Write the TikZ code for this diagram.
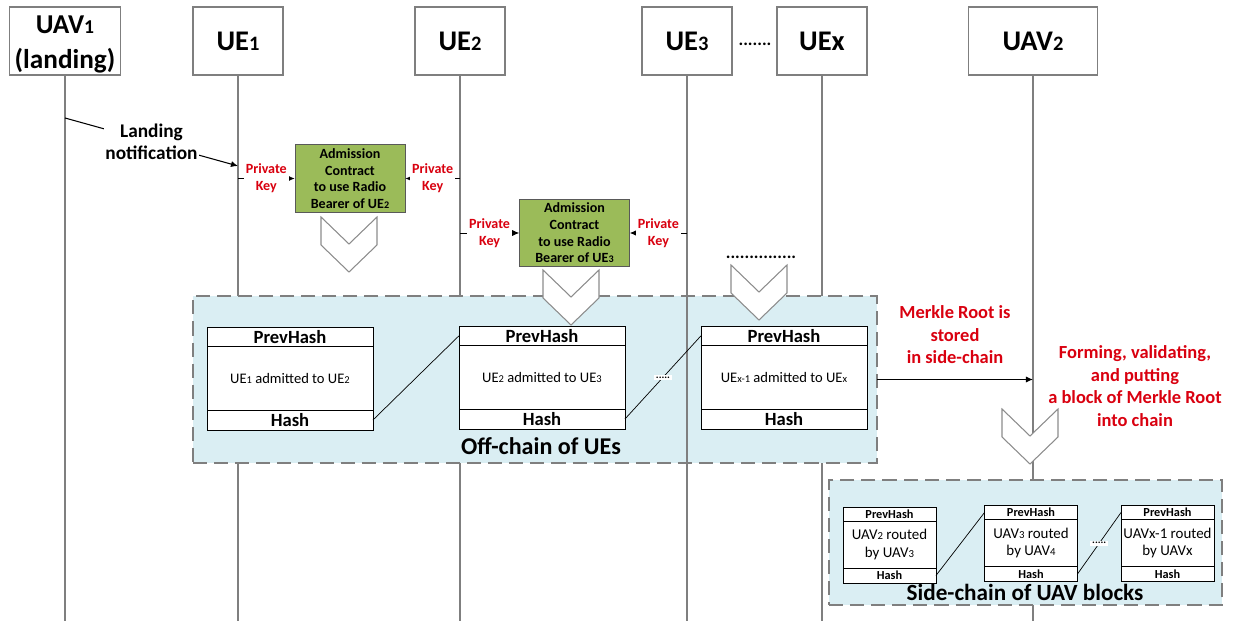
\documentclass[tikz,border=0pt]{standalone}
\usepackage{fontspec}
\setmainfont{Carlito}
\usetikzlibrary{arrows.meta,positioning}
\definecolor{cnGreen}{HTML}{9BBB59}
\definecolor{cnBlue}{HTML}{DAEEF3}
\definecolor{cnRed}{HTML}{D9000F}
\definecolor{cnGray}{HTML}{7F7F7F}
\newcommand{\sm}[1]{\scalebox{0.72}{#1}}

\begin{document}
\begin{tikzpicture}[x=0.02cm,y=-0.02cm,>={Latex[length=4pt,width=3.5pt]},
  hd/.style={draw=cnGray,thick,minimum width=1.8cm,minimum height=1.36cm,align=center,font=\fontsize{16.2}{18}\selectfont\bfseries},
  life/.style={draw=cnGray,line width=0.6pt},
  ct/.style={draw=black!65,fill=cnGreen,minimum width=2.2cm,minimum height=1.35cm,align=center,inner sep=1pt,font=\fontsize{8}{9.5}\selectfont\bfseries},
  pkl/.style={fill=white,inner sep=1pt,align=center,text=cnRed,font=\fontsize{8}{9.5}\selectfont\bfseries},
  rd/.style={align=center,text=cnRed,font=\fontsize{10.5}{12.8}\selectfont\bfseries},
  chain/.style={draw=cnGray,line width=1.4pt,dash pattern=on 8pt off 4pt,fill=cnBlue,inner sep=0pt,outer sep=0pt},
  blk/.style={draw,fill=white,inner sep=0pt,outer sep=0pt,align=center},
  ob/.style={blk,minimum width=3.32cm,minimum height=1.28cm,font=\fontsize{8.3}{10}\selectfont},
  obh/.style={blk,minimum width=3.32cm,minimum height=0.37cm,font=\fontsize{10.6}{11}\selectfont\bfseries},
  obf/.style={obh,minimum height=0.4cm},
  sb/.style={blk,minimum width=1.86cm,minimum height=0.94cm,font=\fontsize{8.5}{10}\selectfont},
  sbh/.style={blk,minimum width=1.86cm,minimum height=0.28cm,font=\fontsize{7}{8}\selectfont\bfseries},
  sbf/.style={sbh,minimum height=0.3cm},
  dt/.style={fill=white,inner sep=1pt,font=\fontsize{6}{6}\selectfont\bfseries},
  chevline/.style={draw=black!45,fill=white,line width=0.6pt},
  chev/.pic={\path[chevline] (-28,0) -- (0,27) -- (28,0) -- (28,28) -- (0,55) -- (-28,28) -- cycle;}]
  \useasboundingbox (0,0) rectangle (1235,621);
  % lifeline heads
  \node[hd,minimum width=2.22cm] (uavA) at (65,41) {};
  \node[align=center,inner sep=0pt,font=\fontsize{15.5}{19.8}\selectfont\bfseries] (uavAt) at (65,44.5) {UAV\sm{1}\\(landing)};
  \node[hd] (ueA) at (238,41) {UE\sm{1}};
  \node[hd] (ueB) at (460,41) {UE\sm{2}};
  \node[hd] (ueC) at (687,41) {UE\sm{3}};
  \node[hd] (ueX) at (822,41) {UEx};
  \node[hd,minimum width=2.58cm] (uavB) at (1033,41) {UAV\sm{2}};
  \node[font=\fontsize{10}{10}\selectfont\bfseries] (dotsA) at (755,44) {.......};
  \coordinate (bot) at (0,621);
  \foreach \n in {uavA,ueA,ueB,ueC,ueX,uavB}
    \draw[life] (\n.south) -- (\n.south |- bot);
  % landing notification
  \coordinate (lnA) at (uavA.south |- 0,118);
  \coordinate (lnB) at (ueA.south |- 0,166);
  \draw[->,semithick] (lnA) -- node[pos=0.5,fill=white,inner sep=1pt,align=center,font=\fontsize{11}{12.6}\selectfont\bfseries]{Landing\\notification} (lnB);
  % admission contracts
  \node[ct] (cA) at (350,178.5) {Admission\\Contract\\to use Radio\\Bearer of UE\sm{2}};
  \node[ct] (cB) at (574.5,233) {Admission\\Contract\\to use Radio\\Bearer of UE\sm{3}};
  \draw[->] (ueA.south |- cA.west) -- node[pkl]{Private\\Key} (cA.west);
  \draw[->] (ueB.south |- cA.east) -- node[pkl]{Private\\Key} (cA.east);
  \draw[->] (ueB.south |- cB.west) -- node[pkl]{Private\\Key} (cB.west);
  \draw[->] (ueC.south |- cB.east) -- node[pkl]{Private\\Key} (cB.east);
  % off-chain
  \node[chain,minimum width=13.68cm,minimum height=3.34cm] (off) at (535,379.5) {};
  \draw[life] (off.north -| ueC) -- (off.south -| ueC);
  \node[font=\fontsize{13.7}{16}\selectfont\bfseries] (offl) at (541,446) {Off-chain of UEs};
  \node[ob] (bA) at (290,378) {UE\sm{1} admitted to UE\sm{2}};
  \node[obh,above=0pt of bA] (pA) {PrevHash};
  \node[obf,below=0pt of bA] (hA) {Hash};
  \node[ob] (bB) at (542,377) {UE\sm{2} admitted to UE\sm{3}};
  \node[obh,above=0pt of bB] (pB) {PrevHash};
  \node[obf,below=0pt of bB] (hB) {Hash};
  \node[ob] (bC) at (784,377) {UE\sm{x-1} admitted to UE\sm{x}};
  \node[obh,above=0pt of bC] (pC) {PrevHash};
  \node[obf,below=0pt of bC] (hC) {Hash};
  \draw[thin] (hA.east) -- (pB.west);
  \draw[thin] (hB.east) -- node[dt]{.....} (pC.west);
  % side-chain
  \node[chain,minimum width=7.86cm,minimum height=2.5cm] (side) at (1025.5,542.5) {};
  \node[font=\fontsize{13.2}{15}\selectfont\bfseries] (sidel) at (1025,592) {Side-chain of UAV blocks};
  \node[sb] (sA) at (889.5,544.5) {UAV\sm{2} routed\\by UAV\sm{3}};
  \node[sbh,above=0pt of sA] (spA) {PrevHash};
  \node[sbf,below=0pt of sA] (shA) {Hash};
  \node[sb] (sB) at (1031,543) {UAV\sm{3} routed\\by UAV\sm{4}};
  \node[sbh,above=0pt of sB] (spB) {PrevHash};
  \node[sbf,below=0pt of sB] (shB) {Hash};
  \node[sb] (sC) at (1167.5,543) {UAVx-1 routed\\by UAVx};
  \node[sbh,above=0pt of sC] (spC) {PrevHash};
  \node[sbf,below=0pt of sC] (shC) {Hash};
  \draw[thin] (shA.east) -- (spB.west);
  \draw[thin] (shB.east) -- node[dt]{.....} (spC.west);
  % merkle root
  \draw[->,semithick] (off.east) -- (off.east -| uavB);
  \node[rd] (mkl) at (955,335) {Merkle Root is\\stored\\in side-chain};
  \node[rd] (fml) at (1135,386) {Forming, validating,\\and putting\\a block of Merkle Root\\into chain};
  % chevrons
  \node[font=\fontsize{10}{10}\selectfont\bfseries] (dotsB) at (761,257) {...............};
  \pic at (349,217) {chev};
  \pic at (571,270) {chev};
  \pic at (759,265) {chev};
  \pic at (1030,409) {chev};
\end{tikzpicture}
\end{document}
